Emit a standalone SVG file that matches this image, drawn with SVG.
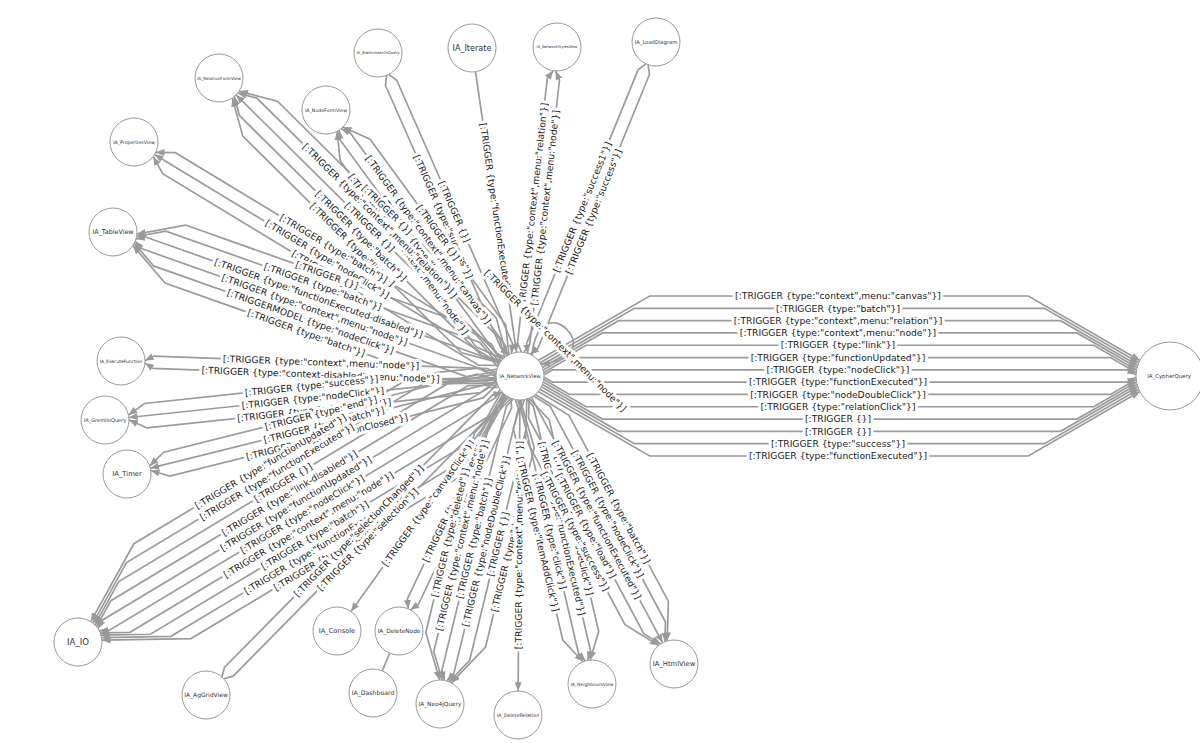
<svg xmlns="http://www.w3.org/2000/svg" width="1200" height="743" viewBox="0 0 1200 743">
<defs>
<marker id="arr" viewBox="0 0 10 8" refX="10" refY="4" markerWidth="9" markerHeight="7" markerUnits="userSpaceOnUse" orient="auto"><path d="M0,0L10,4L0,8z" fill="#999"/></marker>
<style>
.e{fill:none;stroke:#9b9b9b;stroke-width:1.7;marker-end:url(#arr)}
.p{fill:none;stroke:#9b9b9b;stroke-width:1.7}
.l{font-family:"DejaVu Sans",sans-serif;font-size:9.2px;fill:#1a1a1a;text-anchor:middle;stroke:#fff;stroke-width:6;stroke-linejoin:round;paint-order:stroke}
.n circle{fill:#fff;stroke:#999;stroke-width:1}
.n text{font-family:"DejaVu Sans",sans-serif;fill:#333;text-anchor:middle}
</style>
</defs>
<rect width="1200" height="743" fill="#fff"/>
<g id="connectors">
<g id="lines">
<g transform="translate(520,376)">
<path class="e" d="M18.2,-15.6L129.7,-80L508.3,-80L619.8,-15.6"/>
<path class="e" d="M20,-13.2L114.4,-67.65L524.4,-67.65L618.7,-13.2"/>
<path class="e" d="M21.4,-10.8L98.6,-55.35L540.6,-55.35L617.8,-10.8"/>
<path class="e" d="M22.5,-8.4L82.5,-43.05L557,-43.05L617,-8.4"/>
<path class="e" d="M23.2,-6L66.1,-30.75L573.7,-30.75L616.5,-6"/>
<path class="e" d="M23.7,-3.6L49.5,-18.45L590.5,-18.45L616.2,-3.6"/>
<path class="e" d="M24,-1.2L32.5,-6.15L607.4,-6.15L616,-1.2"/>
<path class="e" d="M24,1.2L32.5,6.15L607.4,6.15L616,1.2"/>
<path class="e" d="M23.7,3.6L49.5,18.45L590.5,18.45L616.2,3.6"/>
<path class="e" d="M23.2,6L66.1,30.75L573.7,30.75L616.5,6"/>
<path class="e" d="M22.5,8.4L82.5,43.05L557,43.05L617,8.4"/>
<path class="e" d="M21.4,10.8L98.6,55.35L540.6,55.35L617.8,10.8"/>
<path class="e" d="M20,13.2L114.4,67.65L524.4,67.65L618.7,13.2"/>
<path class="e" d="M18.2,15.6L129.7,80L508.3,80L619.8,15.6"/>
</g>
<g transform="translate(520,376) rotate(-67.84)">
<path class="e" d="M336.6,-1.2L328.1,-6.15L32.5,-6.15L24,-1.2"/>
<path class="e" d="M336.6,1.2L328.1,6.15L32.5,6.15L24,1.2"/>
</g>
<g transform="translate(520,376) rotate(-83.58)">
<path class="e" d="M24,-1.2L32.5,-6.15L298.6,-6.15L307.1,-1.2"/>
<path class="e" d="M24,1.2L32.5,6.15L298.6,6.15L307.1,1.2"/>
</g>
<g transform="translate(472,48) rotate(81.67)">
<path class="e" d="M24,0L307.5,0"/>
</g>
<g transform="translate(378,53) rotate(66.27)">
<path class="e" d="M24,-1.2L32.5,-6.15L320.3,-6.15L328.8,-1.2"/>
<path class="e" d="M24,1.2L32.5,6.15L320.3,6.15L328.8,1.2"/>
</g>
<g transform="translate(326,110) rotate(53.9)">
<path class="e" d="M305.5,-3.6L279.7,-18.45L49.5,-18.45L23.7,-3.6"/>
<path class="e" d="M305.2,-1.2L296.7,-6.15L32.5,-6.15L24,-1.2"/>
<path class="e" d="M305.2,1.2L296.7,6.15L32.5,6.15L24,1.2"/>
<path class="e" d="M305.5,3.6L279.7,18.45L49.5,18.45L23.7,3.6"/>
</g>
<g transform="translate(219,78) rotate(44.71)">
<path class="e" d="M400.1,-4.8L365.8,-24.6L57.8,-24.6L23.5,-4.8"/>
<path class="e" d="M399.7,-2.4L382.6,-12.3L41,-12.3L23.9,-2.4"/>
<path class="e" d="M399.6,0L24,0"/>
<path class="e" d="M399.7,2.4L382.6,12.3L41,12.3L23.9,2.4"/>
<path class="e" d="M400.1,4.8L365.8,24.6L57.8,24.6L23.5,4.8"/>
</g>
<g transform="translate(134,142) rotate(31.2)">
<path class="e" d="M427.5,-2.4L410.4,-12.3L41,-12.3L23.9,-2.4"/>
<path class="e" d="M427.4,0L24,0"/>
<path class="e" d="M427.5,2.4L410.4,12.3L41,12.3L23.9,2.4"/>
</g>
<g transform="translate(113,232) rotate(19.49)">
<path class="e" d="M408.5,-6L365.6,-30.75L66.1,-30.75L23.2,-6"/>
<path class="e" d="M408,-3.6L382.2,-18.45L49.5,-18.45L23.7,-3.6"/>
<path class="e" d="M407.7,-1.2L399.2,-6.15L32.5,-6.15L24,-1.2"/>
<path class="e" d="M407.7,1.2L399.2,6.15L32.5,6.15L24,1.2"/>
<path class="e" d="M408,3.6L382.2,18.45L49.5,18.45L23.7,3.6"/>
<path class="e" d="M408.5,6L365.6,30.75L66.1,30.75L23.2,6"/>
</g>
<g transform="translate(121,361) rotate(2.15)">
<path class="e" d="M375.3,-1.2L366.8,-6.15L32.5,-6.15L24,-1.2"/>
<path class="e" d="M375.3,1.2L366.8,6.15L32.5,6.15L24,1.2"/>
</g>
<g transform="translate(105,420) rotate(-6.05)">
<path class="e" d="M393.4,-2.4L376.3,-12.3L41,-12.3L23.9,-2.4"/>
<path class="e" d="M393.3,0L24,0"/>
<path class="e" d="M393.4,2.4L376.3,12.3L41,12.3L23.9,2.4"/>
</g>
<g transform="translate(127,474) rotate(-14)">
<path class="e" d="M381.1,-2.4L364,-12.3L41,-12.3L23.9,-2.4"/>
<path class="e" d="M381,0L24,0"/>
<path class="e" d="M381.1,2.4L364,12.3L41,12.3L23.9,2.4"/>
</g>
<g transform="translate(78,642) rotate(-31.04)">
<path class="e" d="M494.5,-10.8L417.3,-55.35L98.6,-55.35L21.4,-10.8"/>
<path class="e" d="M493.4,-8.4L433.4,-43.05L82.5,-43.05L22.5,-8.4"/>
<path class="e" d="M492.7,-6L449.8,-30.75L66.1,-30.75L23.2,-6"/>
<path class="e" d="M492.2,-3.6L466.4,-18.45L49.5,-18.45L23.7,-3.6"/>
<path class="e" d="M491.9,-1.2L483.4,-6.15L32.5,-6.15L24,-1.2"/>
<path class="e" d="M491.9,1.2L483.4,6.15L32.5,6.15L24,1.2"/>
<path class="e" d="M492.2,3.6L466.4,18.45L49.5,18.45L23.7,3.6"/>
<path class="e" d="M492.7,6L449.8,30.75L66.1,30.75L23.2,6"/>
<path class="e" d="M493.4,8.4L433.4,43.05L82.5,43.05L22.5,8.4"/>
<path class="e" d="M494.5,10.8L417.3,55.35L98.6,55.35L21.4,10.8"/>
</g>
<g transform="translate(206,695) rotate(-45.45)">
<path class="e" d="M24,-1.2L32.5,-6.15L415.1,-6.15L423.6,-1.2"/>
<path class="e" d="M24,1.2L32.5,6.15L415.1,6.15L423.6,1.2"/>
</g>
<g transform="translate(337,631) rotate(-54.33)">
<path class="e" d="M289.9,0L24,0"/>
</g>
<g transform="translate(399,631) rotate(-64.62)">
<path class="e" d="M258.3,-1.2L249.8,-6.15L32.5,-6.15L24,-1.2"/>
<path class="e" d="M258.3,1.2L249.8,6.15L32.5,6.15L24,1.2"/>
</g>
<g transform="translate(440,704) rotate(-76.29)">
<path class="e" d="M314.4,-6L271.5,-30.75L66.1,-30.75L23.2,-6"/>
<path class="e" d="M313.9,-3.6L288.1,-18.45L49.5,-18.45L23.7,-3.6"/>
<path class="e" d="M313.6,-1.2L305.1,-6.15L32.5,-6.15L24,-1.2"/>
<path class="e" d="M313.6,1.2L305.1,6.15L32.5,6.15L24,1.2"/>
<path class="e" d="M313.9,3.6L288.1,18.45L49.5,18.45L23.7,3.6"/>
<path class="e" d="M314.4,6L271.5,30.75L66.1,30.75L23.2,6"/>
</g>
<g transform="translate(518,715) rotate(-89.66)">
<path class="e" d="M315,0L24,0"/>
</g>
<g transform="translate(520,376) rotate(76.84)">
<path class="e" d="M23.7,-3.6L49.5,-18.45L266.8,-18.45L292.6,-3.6"/>
<path class="e" d="M24,-1.2L32.5,-6.15L283.8,-6.15L292.3,-1.2"/>
<path class="e" d="M24,1.2L32.5,6.15L283.8,6.15L292.3,1.2"/>
<path class="e" d="M23.7,3.6L49.5,18.45L266.8,18.45L292.6,3.6"/>
</g>
<g transform="translate(520,376) rotate(61.87)">
<path class="e" d="M23.5,-4.8L57.8,-24.6L268.8,-24.6L303.1,-4.8"/>
<path class="e" d="M23.9,-2.4L41,-12.3L285.6,-12.3L302.7,-2.4"/>
<path class="e" d="M24,0L302.6,0"/>
<path class="e" d="M23.9,2.4L41,12.3L285.6,12.3L302.7,2.4"/>
<path class="e" d="M23.5,4.8L57.8,24.6L268.8,24.6L303.1,4.8"/>
</g>
<g transform="translate(520,376) rotate(-45)">
<path class="e" d="M23.2,-6.2C50,-28 66,-18 66,0C66,18 50,28 23.2,6.2"/>
</g>
<path class="p" d="M382.3,670.9L389.7,653.1"/>
</g>
<g id="labels">
<g transform="translate(520,376)">
<text class="l" x="318" y="-80" dy="3.2">[:TRIGGER {type:"context",menu:"canvas"}]</text>
<text class="l" x="318" y="-67.65" dy="3.2">[:TRIGGER {type:"batch"}]</text>
<text class="l" x="318" y="-55.35" dy="3.2">[:TRIGGER {type:"context",menu:"relation"}]</text>
<text class="l" x="318" y="-43.05" dy="3.2">[:TRIGGER {type:"context",menu:"node"}]</text>
<text class="l" x="318" y="-30.75" dy="3.2">[:TRIGGER {type:"link"}]</text>
<text class="l" x="318" y="-18.45" dy="3.2">[:TRIGGER {type:"functionUpdated"}]</text>
<text class="l" x="318" y="-6.15" dy="3.2">[:TRIGGER {type:"nodeClick"}]</text>
<text class="l" x="318" y="6.15" dy="3.2">[:TRIGGER {type:"functionExecuted"}]</text>
<text class="l" x="318" y="18.45" dy="3.2">[:TRIGGER {type:"nodeDoubleClick"}]</text>
<text class="l" x="318" y="30.75" dy="3.2">[:TRIGGER {type:"relationClick"}]</text>
<text class="l" x="318" y="43.05" dy="3.2">[:TRIGGER {}]</text>
<text class="l" x="318" y="55.35" dy="3.2">[:TRIGGER {}]</text>
<text class="l" x="318" y="67.65" dy="3.2">[:TRIGGER {type:"success"}]</text>
<text class="l" x="318" y="80" dy="3.2">[:TRIGGER {type:"functionExecuted"}]</text>
</g>
<g transform="translate(520,376) rotate(-67.84)">
<text class="l" x="180" y="-6.15" dy="3.2">[:TRIGGER {type:"success1"}]</text>
<text class="l" x="180" y="6.15" dy="3.2">[:TRIGGER {type:"success"}]</text>
</g>
<g transform="translate(520,376) rotate(-83.58)">
<text class="l" x="170" y="-6.15" dy="3.2">[:TRIGGER {type:"context",menu:"relation"}]</text>
<text class="l" x="170" y="6.15" dy="3.2">[:TRIGGER {type:"context",menu:"node"}]</text>
</g>
<g transform="translate(472,48) rotate(81.67)">
<text class="l" x="165" y="0" dy="3.2">[:TRIGGER {type:"functionExecuted"}]</text>
</g>
<g transform="translate(378,53) rotate(66.27)">
<text class="l" x="176" y="-6.15" dy="3.2">[:TRIGGER {}]</text>
<text class="l" x="176" y="6.15" dy="3.2">[:TRIGGER {type:"success"}]</text>
</g>
<g transform="translate(326,110) rotate(53.9)">
<text class="l" x="165" y="-18.45" dy="3.2">[:TRIGGER {}]</text>
<text class="l" x="165" y="-6.15" dy="3.2">[:TRIGGER {type:"context",menu:"canvas"}]</text>
<text class="l" x="165" y="6.15" dy="3.2">[:TRIGGER {type:"batch"}]</text>
<text class="l" x="165" y="18.45" dy="3.2">[:TRIGGER {type:"context",menu:"node"}]</text>
</g>
<g transform="translate(219,78) rotate(44.71)">
<text class="l" x="212" y="-24.6" dy="3.2">[:TRIGGER {}]</text>
<text class="l" x="212" y="-12.3" dy="3.2">[:TRIGGER {type:"context",menu:"relation"}]</text>
<text class="l" x="212" y="0" dy="3.2">[:TRIGGER {}]</text>
<text class="l" x="212" y="12.3" dy="3.2">[:TRIGGER {type:"batch"}]</text>
<text class="l" x="212" y="24.6" dy="3.2">[:TRIGGER {type:"link"}]</text>
</g>
<g transform="translate(134,142) rotate(31.2)">
<text class="l" x="226" y="-12.3" dy="3.2">[:TRIGGER {type:"batch"}]</text>
<text class="l" x="226" y="0" dy="3.2">[:TRIGGER {type:"nodeClick"}]</text>
<text class="l" x="226" y="12.3" dy="3.2">[:TRIGGER {}]</text>
</g>
<g transform="translate(113,232) rotate(19.49)">
<text class="l" x="216" y="-30.75" dy="3.2">[:TRIGGER {}]</text>
<text class="l" x="216" y="-18.45" dy="3.2">[:TRIGGER {type:"batch"}]</text>
<text class="l" x="216" y="-6.15" dy="3.2">[:TRIGGER {type:"functionExecuted-disabled"}]</text>
<text class="l" x="216" y="6.15" dy="3.2">[:TRIGGER {type:"context",menu:"node"}]</text>
<text class="l" x="216" y="18.45" dy="3.2">[:TRIGGERMODEL {type:"nodeClick"}]</text>
<text class="l" x="216" y="30.75" dy="3.2">[:TRIGGER {type:"batch"}]</text>
</g>
<g transform="translate(121,361) rotate(2.15)">
<text class="l" x="200" y="-6.15" dy="3.2">[:TRIGGER {type:"context",menu:"node"}]</text>
<text class="l" x="200" y="6.15" dy="3.2">[:TRIGGER {type:"context-disabled",menu:"node"}]</text>
</g>
<g transform="translate(105,420) rotate(-6.05)">
<text class="l" x="209" y="-12.3" dy="3.2">[:TRIGGER {type:"success"}]</text>
<text class="l" x="209" y="0" dy="3.2">[:TRIGGER {type:"nodeClick"}]</text>
<text class="l" x="209" y="12.3" dy="3.2">[:TRIGGER {type:"relationClick"}]</text>
</g>
<g transform="translate(127,474) rotate(-14)">
<text class="l" x="203" y="-12.3" dy="3.2">[:TRIGGER {type:"end"}]</text>
<text class="l" x="203" y="0" dy="3.2">[:TRIGGER {type:"batch"}]</text>
<text class="l" x="203" y="12.3" dy="3.2">[:TRIGGER {type:"functionClosed"}]</text>
</g>
<g transform="translate(78,642) rotate(-31.04)">
<text class="l" x="258" y="-55.35" dy="3.2">[:TRIGGER {type:"functionUpdated"}]</text>
<text class="l" x="258" y="-43.05" dy="3.2">[:TRIGGER {type:"functionExecuted"}]</text>
<text class="l" x="258" y="-30.75" dy="3.2">[:TRIGGER {}]</text>
<text class="l" x="258" y="-18.45" dy="3.2">[:TRIGGER {type:"link-disabled"}]</text>
<text class="l" x="258" y="-6.15" dy="3.2">[:TRIGGER {type:"functionUpdated"}]</text>
<text class="l" x="258" y="6.15" dy="3.2">[:TRIGGER {type:"nodeClick"}]</text>
<text class="l" x="258" y="18.45" dy="3.2">[:TRIGGER {type:"context",menu:"node"}]</text>
<text class="l" x="258" y="30.75" dy="3.2">[:TRIGGER {type:"batch"}]</text>
<text class="l" x="258" y="43.05" dy="3.2">[:TRIGGER {type:"functionExecuted"}]</text>
<text class="l" x="258" y="55.35" dy="3.2">[:TRIGGER {type:"batch"}]</text>
</g>
<g transform="translate(206,695) rotate(-45.45)">
<text class="l" x="224" y="-6.15" dy="3.2">[:TRIGGER {type:"selectionChanged"}]</text>
<text class="l" x="224" y="6.15" dy="3.2">[:TRIGGER {type:"selection"}]</text>
</g>
<g transform="translate(337,631) rotate(-54.33)">
<text class="l" x="157" y="0" dy="3.2">[:TRIGGER {type:"canvasClick"}]</text>
</g>
<g transform="translate(399,631) rotate(-64.62)">
<text class="l" x="141" y="-6.15" dy="3.2">[:TRIGGER {type:"success"}]</text>
<text class="l" x="141" y="6.15" dy="3.2">[:TRIGGER {}]</text>
</g>
<g transform="translate(440,704) rotate(-76.29)">
<text class="l" x="169" y="-30.75" dy="3.2">[:TRIGGER {type:"deleted"}]</text>
<text class="l" x="169" y="-18.45" dy="3.2">[:TRIGGER {type:"context",menu:"node"}]</text>
<text class="l" x="169" y="-6.15" dy="3.2">[:TRIGGER {type:"batch"}]</text>
<text class="l" x="169" y="6.15" dy="3.2">[:TRIGGER {type:"nodeDoubleClick"}]</text>
<text class="l" x="169" y="18.45" dy="3.2">[:TRIGGER {}]</text>
<text class="l" x="169" y="30.75" dy="3.2">[:TRIGGER {type:"deleted"}]</text>
</g>
<g transform="translate(518,715) rotate(-89.66)">
<text class="l" x="170" y="0" dy="3.2">[:TRIGGER {type:"context",menu:"relation"}]</text>
</g>
<g transform="translate(520,376) rotate(76.84)">
<text class="l" x="158" y="-18.45" dy="3.2">[:TRIGGER {type:"nodeClick"}]</text>
<text class="l" x="158" y="-6.15" dy="3.2">[:TRIGGER {type:"functionExecuted"}]</text>
<text class="l" x="158" y="6.15" dy="3.2">[:TRIGGER {type:"click"}]</text>
<text class="l" x="158" y="18.45" dy="3.2">[:TRIGGER {type:"itemAddClick"}]</text>
</g>
<g transform="translate(520,376) rotate(61.87)">
<text class="l" x="163" y="-24.6" dy="3.2">[:TRIGGER {type:"batch"}]</text>
<text class="l" x="163" y="-12.3" dy="3.2">[:TRIGGER {type:"nodeClick"}]</text>
<text class="l" x="163" y="0" dy="3.2">[:TRIGGER {type:"functionExecuted"}]</text>
<text class="l" x="163" y="12.3" dy="3.2">[:TRIGGER {type:"load"}]</text>
<text class="l" x="163" y="24.6" dy="3.2">[:TRIGGER {type:"success"}]</text>
</g>
<g transform="translate(520,376) rotate(-45)">
<text class="l" transform="translate(50,0) rotate(90)" dy="3.2">[:TRIGGER {type:"context",menu:"node"}]</text>
</g>
</g>
</g>
<g id="nodes">
<g id="IA_NetworkView" class="n"><circle cx="520" cy="376" r="24"/><text x="520" y="378" font-size="5.2">IA_NetworkView</text></g>
<g id="IA_CypherQuery" class="n"><circle cx="1170" cy="376" r="34"/><text x="1169" y="378" font-size="5.4">IA_CypherQuery</text></g>
<g id="IA_ElasticsearchQuery" class="n"><circle cx="378" cy="53" r="24"/><text x="378" y="54.4" font-size="3.9">IA_ElasticsearchQuery</text></g>
<g id="IA_Iterate" class="n"><circle cx="472" cy="48" r="24"/><text x="472" y="50.8" font-size="8.1">IA_Iterate</text></g>
<g id="IA_NetworkStylesView" class="n"><circle cx="557" cy="47" r="24"/><text x="557" y="48.3" font-size="3.7">IA_NetworkStylesView</text></g>
<g id="IA_LoadDiagram" class="n"><circle cx="656" cy="42" r="24"/><text x="656" y="43.8" font-size="5.2">IA_LoadDiagram</text></g>
<g id="IA_RelationFormView" class="n"><circle cx="219" cy="78" r="24"/><text x="219" y="79.5" font-size="4.2">IA_RelationFormView</text></g>
<g id="IA_NodeFormView" class="n"><circle cx="326" cy="110" r="24"/><text x="326" y="111.6" font-size="4.7">IA_NodeFormView</text></g>
<g id="IA_PropertiesView" class="n"><circle cx="134" cy="142" r="24"/><text x="134" y="143.6" font-size="4.7">IA_PropertiesView</text></g>
<g id="IA_TableView" class="n"><circle cx="113" cy="232" r="24"/><text x="113" y="234.2" font-size="6.4">IA_TableView</text></g>
<g id="IA_ExecuteFunction" class="n"><circle cx="121" cy="361" r="24"/><text x="121" y="362.5" font-size="4.4">IA_ExecuteFunction</text></g>
<g id="IA_GremlinQuery" class="n"><circle cx="105" cy="420" r="24"/><text x="105" y="421.7" font-size="5">IA_GremlinQuery</text></g>
<g id="IA_Timer" class="n"><circle cx="127" cy="474" r="24"/><text x="127" y="476.4" font-size="6.8">IA_Timer</text></g>
<g id="IA_IO" class="n"><circle cx="78" cy="642" r="24"/><text x="78" y="645" font-size="8.5">IA_IO</text></g>
<g id="IA_AgGridView" class="n"><circle cx="206" cy="695" r="24"/><text x="206" y="697.1" font-size="6">IA_AgGridView</text></g>
<g id="IA_Console" class="n"><circle cx="337" cy="631" r="24"/><text x="337" y="633.3" font-size="6.7">IA_Console</text></g>
<g id="IA_DeleteNode" class="n"><circle cx="399" cy="631" r="24"/><text x="399" y="633" font-size="5.8">IA_DeleteNode</text></g>
<g id="IA_Dashboard" class="n"><circle cx="373" cy="693" r="24"/><text x="373" y="695.2" font-size="6.2">IA_Dashboard</text></g>
<g id="IA_Neo4jQuery" class="n"><circle cx="440" cy="704" r="24"/><text x="440" y="706" font-size="5.8">IA_Neo4jQuery</text></g>
<g id="IA_DeleteRelation" class="n"><circle cx="518" cy="715" r="24"/><text x="518" y="716.7" font-size="4.8">IA_DeleteRelation</text></g>
<g id="IA_NeighboursView" class="n"><circle cx="592" cy="684" r="24"/><text x="592" y="685.6" font-size="4.5">IA_NeighboursView</text></g>
<g id="IA_HtmlView" class="n"><circle cx="674" cy="664" r="24"/><text x="674" y="666.4" font-size="6.8">IA_HtmlView</text></g>
</g>
</svg>
